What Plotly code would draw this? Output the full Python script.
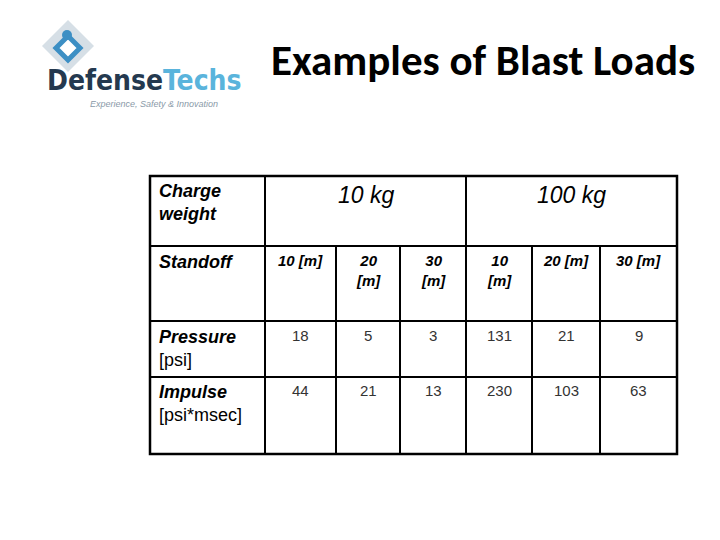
import plotly.graph_objects as go

title = "Examples of Blast Loads"
charges = ["10 kg", "100 kg"]
standoffs = ["10 [m]", "20<br>[m]", "30<br>[m]", "10<br>[m]", "20 [m]", "30 [m]"]
row_names = ["<b><i>Pressure</i></b><br>[psi]", "<b><i>Impulse</i></b><br>[psi*msec]"]
pressure = [18, 5, 3, 131, 21, 9]
impulse = [44, 21, 13, 230, 103, 63]

O = 8  # page body margin compensation
xs = [150, 265, 336, 400, 466, 532, 600, 677]
ys = [176, 246, 321, 377, 454]

fig = go.Figure()
fig.update_layout(width=720, height=540, margin=dict(l=0, r=0, t=0, b=0),
                  paper_bgcolor="white", plot_bgcolor="white", showlegend=False,
                  xaxis=dict(range=[O, 720 + O], visible=False, fixedrange=True),
                  yaxis=dict(range=[540 + O, O], visible=False, fixedrange=True))
lw = 2
def line(x0, y0, x1, y1):
    fig.add_shape(type="line", x0=x0, y0=y0, x1=x1, y1=y1, line=dict(color="black", width=lw))
fig.add_shape(type="rect", x0=xs[0], y0=ys[0], x1=xs[-1], y1=ys[-1], line=dict(color="black", width=2.5))
for y in ys[1:-1]:
    line(xs[0], y, xs[-1], y)
line(xs[1], ys[0], xs[1], ys[-1])
line(xs[4], ys[0], xs[4], ys[-1])
for x in [xs[2], xs[3], xs[5], xs[6]]:
    line(x, ys[1], x, ys[-1])

F = "Liberation Sans, Arial"
def txt(x, y, s, size, xa="center", ya="top", color="black", fam=F):
    fig.add_annotation(x=x, y=y, text=s, showarrow=False, xanchor=xa, yanchor=ya,
                       font=dict(family=fam, size=size, color=color), align="left" if xa == "left" else "center")

txt(157, 179, "<b><i>Charge<br>weight</i></b>", 18, "left")
txt(157, 250, "<b><i>Standoff</i></b>", 18, "left")
for i, c in enumerate(charges):
    txt((xs[1 + 3 * i] + xs[4 + 3 * i]) / 2, 180, "<i>" + c + "</i>", 23)
for i, s in enumerate(standoffs):
    cx = (xs[i + 1] + xs[i + 2]) / 2
    txt(cx, 250, "<b><i>" + s + "</i></b>", 15)
    txt(cx, 325, str(pressure[i]), 15, color="#333")
    txt(cx, 380, str(impulse[i]), 15, color="#333")
txt(157, 325, row_names[0], 18, "left")
txt(157, 380, row_names[1], 18, "left")

txt(483, 60, "<b>" + title + "</b>", 43, fam="Carlito, Liberation Sans Narrow, Arial", ya="middle")

# logo
fig.add_shape(type="path", path="M 68 20 L 94 46 L 68 72 L 42 46 Z", fillcolor="#d6dfe6", line=dict(width=0))
fig.add_shape(type="path", path="M 68 36 L 80 48 L 68 60 L 56 48 Z", fillcolor="white", line=dict(color="#3c8fc4", width=5))
fig.add_shape(type="circle", x0=62, y0=30, x1=72, y1=40, fillcolor="#3c8fc4", line=dict(width=0))
txt(45, 80, "<b>Defense</b><span style='color:#5ab4dc'><b>Techs</b></span>", 28, "left", ya="middle",
    color="#24394f", fam="DejaVu Sans Condensed, Liberation Sans Narrow")
txt(88, 104, "<i>Experience, Safety &amp; Innovation</i>", 9, "left", ya="middle", color="#8a9aa8")

fig.write_html("out.html")
